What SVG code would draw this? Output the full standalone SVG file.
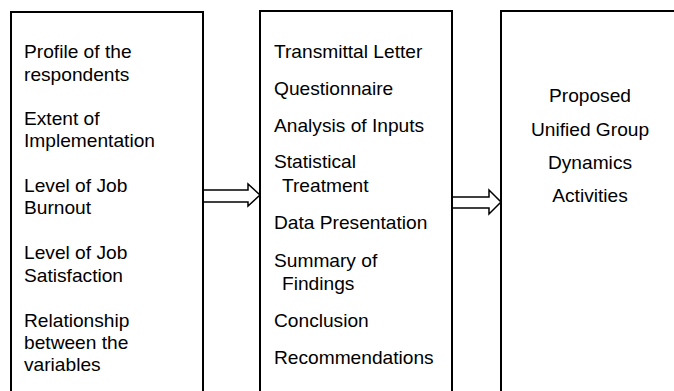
<svg xmlns="http://www.w3.org/2000/svg" width="674" height="391" viewBox="0 0 674 391">
<style>
.box{fill:#fff;stroke:#000;stroke-width:2}
.arr{fill:#fff;stroke:#000;stroke-width:1.5;stroke-linejoin:miter}
text{font-family:"Liberation Sans",Arial,sans-serif;font-size:18px;fill:#000}
.c{text-anchor:middle}
</style>
<rect width="674" height="391" fill="#fff"/>
<g id="connectors">
<path class="arr" d="M203,190 L248,190 L248,184 L260,195 L248,206 L248,202 L203,202 Z"/>
<path class="arr" d="M452,197 L489,197 L489,190 L501,202 L489,214 L489,208 L452,208 Z"/>
</g>
<g id="node-inputs">
<rect class="box" x="11" y="12" width="192" height="400"/>
<g transform="translate(24,0) scale(1.065,1)">
<text x="0" y="58">Profile of the</text>
<text x="0" y="81">respondents</text>
<text x="0" y="125">Extent of</text>
<text x="0" y="147">Implementation</text>
<text x="0" y="192">Level of Job</text>
<text x="0" y="214">Burnout</text>
<text x="0" y="259">Level of Job</text>
<text x="0" y="282">Satisfaction</text>
<text x="0" y="327">Relationship</text>
<text x="0" y="349">between the</text>
<text x="0" y="371">variables</text>
</g>
</g>
<g id="node-process">
<rect class="box" x="260" y="11" width="192" height="400"/>
<g transform="translate(274,0) scale(1.065,1)">
<text x="0" y="58">Transmittal Letter</text>
<text x="0" y="95">Questionnaire</text>
<text x="0" y="132">Analysis of Inputs</text>
<text x="0" y="168">Statistical</text>
<text x="7.5" y="192">Treatment</text>
<text x="0" y="229">Data Presentation</text>
<text x="0" y="267">Summary of</text>
<text x="7.5" y="290">Findings</text>
<text x="0" y="327">Conclusion</text>
<text x="0" y="364">Recommendations</text>
</g>
</g>
<g id="node-output">
<rect class="box" x="501" y="11" width="200" height="400"/>
<g transform="translate(590,0) scale(1.065,1)">
<text class="c" x="0" y="102">Proposed</text>
<text class="c" x="0" y="136">Unified Group</text>
<text class="c" x="0" y="169">Dynamics</text>
<text class="c" x="0" y="202">Activities</text>
</g>
</g>
</svg>
